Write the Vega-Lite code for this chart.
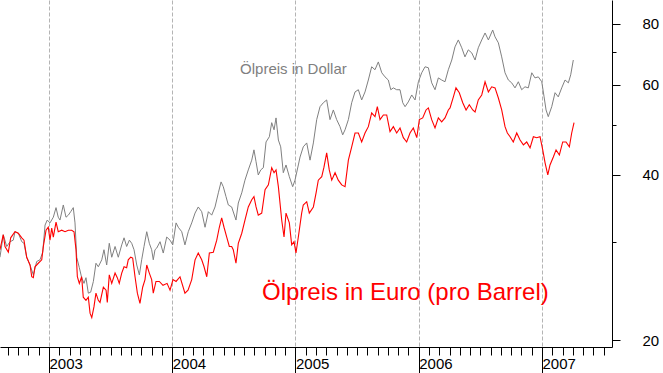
{
  "$schema": "https://vega.github.io/schema/vega-lite/v6.json",
  "width": 612,
  "height": 347,
  "autosize": {"type": "none"},
  "padding": {"left": 0, "top": 0, "right": 51, "bottom": 26},
  "background": "white",
  "config": {
    "view": {"stroke": null},
    "font": "Liberation Sans",
    "axis": {"domainColor": "#000000", "tickColor": "#000000", "labelColor": "#000000", "labelFont": "Liberation Sans", "title": null}
  },
  "datasets": {
    "usd": [
      {"t":2002.602,"p":28.1},{"t":2002.629,"p":30.9},{"t":2002.657,"p":29.4},{"t":2002.684,"p":30.0},{"t":2002.710,"p":30.2},{"t":2002.724,"p":31.3},{"t":2002.751,"p":31.1},{"t":2002.779,"p":30.0},{"t":2002.797,"p":29.8},{"t":2002.819,"p":28.1},{"t":2002.846,"p":27.2},{"t":2002.873,"p":26.1},{"t":2002.900,"p":27.6},{"t":2002.927,"p":27.8},{"t":2002.949,"p":28.7},{"t":2002.968,"p":32.2},{"t":2002.986,"p":32.9},{"t":2003.008,"p":32.5},{"t":2003.035,"p":33.3},{"t":2003.057,"p":34.7},{"t":2003.075,"p":33.3},{"t":2003.089,"p":32.9},{"t":2003.116,"p":35.1},{"t":2003.138,"p":33.3},{"t":2003.157,"p":33.6},{"t":2003.176,"p":34.1},{"t":2003.197,"p":34.7},{"t":2003.211,"p":32.5},{"t":2003.225,"p":28.1},{"t":2003.246,"p":26.9},{"t":2003.265,"p":25.8},{"t":2003.284,"p":25.2},{"t":2003.300,"p":25.8},{"t":2003.319,"p":24.2},{"t":2003.338,"p":24.3},{"t":2003.360,"p":25.4},{"t":2003.381,"p":27.4},{"t":2003.400,"p":27.0},{"t":2003.428,"p":27.8},{"t":2003.446,"p":29.0},{"t":2003.468,"p":27.2},{"t":2003.489,"p":29.8},{"t":2003.509,"p":28.1},{"t":2003.536,"p":29.4},{"t":2003.562,"p":28.1},{"t":2003.590,"p":29.6},{"t":2003.609,"p":30.5},{"t":2003.630,"p":29.4},{"t":2003.652,"p":30.2},{"t":2003.671,"p":29.8},{"t":2003.690,"p":29.0},{"t":2003.712,"p":27.2},{"t":2003.733,"p":26.1},{"t":2003.752,"p":27.8},{"t":2003.771,"p":29.4},{"t":2003.793,"p":31.3},{"t":2003.814,"p":29.8},{"t":2003.833,"p":29.0},{"t":2003.846,"p":27.8},{"t":2003.860,"p":29.0},{"t":2003.874,"p":29.2},{"t":2003.901,"p":30.0},{"t":2003.927,"p":28.6},{"t":2003.955,"p":30.6},{"t":2003.982,"p":30.2},{"t":2004.004,"p":29.6},{"t":2004.031,"p":32.5},{"t":2004.049,"p":31.9},{"t":2004.077,"p":31.3},{"t":2004.103,"p":29.6},{"t":2004.130,"p":31.3},{"t":2004.158,"p":32.5},{"t":2004.185,"p":33.9},{"t":2004.211,"p":34.8},{"t":2004.239,"p":34.1},{"t":2004.266,"p":31.9},{"t":2004.293,"p":34.1},{"t":2004.320,"p":33.6},{"t":2004.347,"p":34.8},{"t":2004.374,"p":37.0},{"t":2004.396,"p":38.8},{"t":2004.414,"p":38.0},{"t":2004.436,"p":36.4},{"t":2004.455,"p":35.1},{"t":2004.482,"p":34.8},{"t":2004.517,"p":32.9},{"t":2004.536,"p":35.4},{"t":2004.564,"p":37.0},{"t":2004.590,"p":39.1},{"t":2004.617,"p":40.9},{"t":2004.645,"p":42.7},{"t":2004.663,"p":44.7},{"t":2004.680,"p":42.4},{"t":2004.698,"p":40.0},{"t":2004.718,"p":40.9},{"t":2004.739,"p":41.3},{"t":2004.761,"p":46.3},{"t":2004.788,"p":47.4},{"t":2004.807,"p":50.5},{"t":2004.826,"p":48.9},{"t":2004.842,"p":51.6},{"t":2004.861,"p":46.7},{"t":2004.880,"p":45.3},{"t":2004.901,"p":40.4},{"t":2004.923,"p":41.8},{"t":2004.950,"p":39.7},{"t":2004.977,"p":38.0},{"t":2004.996,"p":39.1},{"t":2005.023,"p":41.8},{"t":2005.037,"p":43.3},{"t":2005.063,"p":45.3},{"t":2005.091,"p":46.1},{"t":2005.118,"p":42.7},{"t":2005.145,"p":46.1},{"t":2005.172,"p":51.2},{"t":2005.199,"p":54.3},{"t":2005.226,"p":55.3},{"t":2005.253,"p":56.0},{"t":2005.280,"p":51.2},{"t":2005.307,"p":53.5},{"t":2005.334,"p":51.2},{"t":2005.361,"p":49.6},{"t":2005.383,"p":47.8},{"t":2005.402,"p":48.9},{"t":2005.429,"p":51.2},{"t":2005.456,"p":55.3},{"t":2005.483,"p":58.1},{"t":2005.510,"p":58.7},{"t":2005.537,"p":56.0},{"t":2005.564,"p":58.1},{"t":2005.591,"p":61.4},{"t":2005.618,"p":65.3},{"t":2005.645,"p":64.4},{"t":2005.672,"p":66.8},{"t":2005.700,"p":63.5},{"t":2005.726,"p":62.3},{"t":2005.753,"p":61.4},{"t":2005.773,"p":58.7},{"t":2005.794,"p":59.2},{"t":2005.821,"p":58.7},{"t":2005.848,"p":58.7},{"t":2005.870,"p":55.3},{"t":2005.889,"p":54.3},{"t":2005.915,"p":55.5},{"t":2005.943,"p":57.3},{"t":2005.970,"p":56.0},{"t":2005.997,"p":60.9},{"t":2006.024,"p":63.5},{"t":2006.051,"p":65.3},{"t":2006.078,"p":65.0},{"t":2006.105,"p":60.6},{"t":2006.132,"p":58.7},{"t":2006.159,"p":62.0},{"t":2006.186,"p":61.4},{"t":2006.213,"p":60.9},{"t":2006.240,"p":64.4},{"t":2006.268,"p":67.4},{"t":2006.294,"p":71.7},{"t":2006.321,"p":74.1},{"t":2006.349,"p":71.4},{"t":2006.375,"p":68.4},{"t":2006.402,"p":70.7},{"t":2006.430,"p":69.7},{"t":2006.457,"p":67.4},{"t":2006.483,"p":71.4},{"t":2006.511,"p":74.1},{"t":2006.538,"p":76.6},{"t":2006.565,"p":74.1},{"t":2006.600,"p":77.7},{"t":2006.619,"p":75.2},{"t":2006.646,"p":73.1},{"t":2006.673,"p":68.4},{"t":2006.700,"p":63.5},{"t":2006.727,"p":61.4},{"t":2006.754,"p":60.6},{"t":2006.781,"p":59.2},{"t":2006.808,"p":60.9},{"t":2006.835,"p":58.7},{"t":2006.862,"p":59.5},{"t":2006.889,"p":59.2},{"t":2006.917,"p":63.5},{"t":2006.943,"p":62.0},{"t":2006.970,"p":62.3},{"t":2006.998,"p":60.9},{"t":2007.017,"p":56.8},{"t":2007.033,"p":53.5},{"t":2007.051,"p":51.9},{"t":2007.079,"p":54.3},{"t":2007.106,"p":57.9},{"t":2007.132,"p":56.8},{"t":2007.160,"p":59.2},{"t":2007.187,"p":61.4},{"t":2007.214,"p":60.6},{"t":2007.233,"p":62.9},{"t":2007.254,"p":67.4}
    ],
    "eur": [
      {"t":2002.602,"p":29.0},{"t":2002.629,"p":30.9},{"t":2002.643,"p":29.4},{"t":2002.670,"p":28.7},{"t":2002.689,"p":30.5},{"t":2002.724,"p":31.3},{"t":2002.751,"p":31.1},{"t":2002.779,"p":30.5},{"t":2002.797,"p":30.2},{"t":2002.819,"p":28.1},{"t":2002.846,"p":27.2},{"t":2002.860,"p":25.9},{"t":2002.873,"p":25.8},{"t":2002.886,"p":27.0},{"t":2002.913,"p":27.4},{"t":2002.941,"p":27.8},{"t":2002.954,"p":29.4},{"t":2002.976,"p":31.5},{"t":2002.994,"p":31.9},{"t":2003.008,"p":30.2},{"t":2003.022,"p":31.8},{"t":2003.035,"p":30.6},{"t":2003.057,"p":32.6},{"t":2003.075,"p":31.3},{"t":2003.103,"p":31.5},{"t":2003.130,"p":31.3},{"t":2003.157,"p":31.5},{"t":2003.184,"p":31.5},{"t":2003.203,"p":31.3},{"t":2003.219,"p":29.0},{"t":2003.230,"p":25.9},{"t":2003.246,"p":25.2},{"t":2003.265,"p":25.9},{"t":2003.278,"p":23.8},{"t":2003.300,"p":23.5},{"t":2003.319,"p":23.8},{"t":2003.333,"p":22.3},{"t":2003.347,"p":21.9},{"t":2003.365,"p":22.9},{"t":2003.381,"p":24.2},{"t":2003.400,"p":23.5},{"t":2003.414,"p":23.3},{"t":2003.441,"p":24.8},{"t":2003.463,"p":24.5},{"t":2003.473,"p":23.3},{"t":2003.489,"p":26.1},{"t":2003.509,"p":25.2},{"t":2003.536,"p":26.3},{"t":2003.554,"p":25.8},{"t":2003.570,"p":25.2},{"t":2003.590,"p":26.3},{"t":2003.609,"p":27.0},{"t":2003.630,"p":26.9},{"t":2003.643,"p":27.8},{"t":2003.663,"p":28.1},{"t":2003.679,"p":28.0},{"t":2003.698,"p":25.9},{"t":2003.717,"p":24.2},{"t":2003.738,"p":23.2},{"t":2003.760,"p":24.8},{"t":2003.779,"p":25.6},{"t":2003.793,"p":27.2},{"t":2003.814,"p":26.3},{"t":2003.833,"p":25.6},{"t":2003.846,"p":24.2},{"t":2003.868,"p":25.4},{"t":2003.895,"p":25.4},{"t":2003.925,"p":25.0},{"t":2003.958,"p":25.2},{"t":2003.982,"p":24.5},{"t":2004.006,"p":25.6},{"t":2004.031,"p":25.4},{"t":2004.063,"p":25.9},{"t":2004.103,"p":24.2},{"t":2004.128,"p":24.5},{"t":2004.158,"p":25.6},{"t":2004.185,"p":27.8},{"t":2004.211,"p":28.6},{"t":2004.239,"p":27.8},{"t":2004.258,"p":27.0},{"t":2004.280,"p":25.9},{"t":2004.301,"p":28.6},{"t":2004.333,"p":28.7},{"t":2004.361,"p":30.2},{"t":2004.382,"p":31.9},{"t":2004.401,"p":33.2},{"t":2004.420,"p":31.9},{"t":2004.442,"p":30.6},{"t":2004.463,"p":29.4},{"t":2004.482,"p":29.4},{"t":2004.495,"p":29.0},{"t":2004.517,"p":27.4},{"t":2004.536,"p":29.8},{"t":2004.564,"p":31.1},{"t":2004.590,"p":32.9},{"t":2004.617,"p":34.8},{"t":2004.645,"p":35.9},{"t":2004.663,"p":36.4},{"t":2004.680,"p":34.8},{"t":2004.698,"p":33.6},{"t":2004.726,"p":33.9},{"t":2004.753,"p":37.5},{"t":2004.780,"p":38.3},{"t":2004.807,"p":41.3},{"t":2004.826,"p":40.4},{"t":2004.842,"p":40.9},{"t":2004.861,"p":38.0},{"t":2004.888,"p":32.9},{"t":2004.907,"p":30.6},{"t":2004.923,"p":33.9},{"t":2004.950,"p":32.5},{"t":2004.969,"p":29.6},{"t":2004.988,"p":30.0},{"t":2005.004,"p":28.6},{"t":2005.023,"p":30.6},{"t":2005.050,"p":33.9},{"t":2005.063,"p":35.1},{"t":2005.091,"p":35.6},{"t":2005.112,"p":33.9},{"t":2005.145,"p":34.8},{"t":2005.167,"p":37.0},{"t":2005.185,"p":39.1},{"t":2005.213,"p":39.7},{"t":2005.231,"p":41.4},{"t":2005.253,"p":44.1},{"t":2005.274,"p":40.9},{"t":2005.294,"p":39.1},{"t":2005.321,"p":40.4},{"t":2005.347,"p":39.1},{"t":2005.375,"p":38.3},{"t":2005.402,"p":38.0},{"t":2005.429,"p":42.7},{"t":2005.456,"p":45.3},{"t":2005.483,"p":48.2},{"t":2005.510,"p":48.2},{"t":2005.537,"p":46.3},{"t":2005.564,"p":48.2},{"t":2005.591,"p":49.6},{"t":2005.618,"p":52.8},{"t":2005.645,"p":51.9},{"t":2005.664,"p":54.3},{"t":2005.686,"p":51.2},{"t":2005.713,"p":52.3},{"t":2005.740,"p":52.3},{"t":2005.767,"p":48.5},{"t":2005.794,"p":49.6},{"t":2005.821,"p":48.2},{"t":2005.848,"p":49.3},{"t":2005.875,"p":47.2},{"t":2005.902,"p":46.3},{"t":2005.929,"p":48.2},{"t":2005.956,"p":49.3},{"t":2005.984,"p":47.2},{"t":2006.005,"p":51.2},{"t":2006.032,"p":51.6},{"t":2006.059,"p":53.5},{"t":2006.078,"p":54.0},{"t":2006.105,"p":51.2},{"t":2006.132,"p":49.3},{"t":2006.159,"p":51.6},{"t":2006.186,"p":50.7},{"t":2006.213,"p":51.6},{"t":2006.240,"p":53.5},{"t":2006.254,"p":54.0},{"t":2006.281,"p":56.8},{"t":2006.302,"p":59.2},{"t":2006.329,"p":57.9},{"t":2006.357,"p":55.3},{"t":2006.384,"p":53.5},{"t":2006.410,"p":54.8},{"t":2006.438,"p":53.5},{"t":2006.457,"p":53.0},{"t":2006.483,"p":56.0},{"t":2006.511,"p":57.3},{"t":2006.538,"p":60.9},{"t":2006.565,"p":58.1},{"t":2006.592,"p":59.5},{"t":2006.619,"p":59.2},{"t":2006.646,"p":56.5},{"t":2006.673,"p":53.5},{"t":2006.700,"p":49.6},{"t":2006.719,"p":48.2},{"t":2006.741,"p":47.4},{"t":2006.767,"p":46.3},{"t":2006.795,"p":48.2},{"t":2006.822,"p":46.7},{"t":2006.849,"p":45.7},{"t":2006.876,"p":46.3},{"t":2006.903,"p":45.1},{"t":2006.930,"p":47.4},{"t":2006.957,"p":47.2},{"t":2006.984,"p":47.4},{"t":2007.006,"p":44.7},{"t":2007.025,"p":42.2},{"t":2007.047,"p":40.0},{"t":2007.065,"p":41.8},{"t":2007.092,"p":43.3},{"t":2007.114,"p":44.7},{"t":2007.141,"p":43.7},{"t":2007.168,"p":46.3},{"t":2007.195,"p":46.3},{"t":2007.222,"p":45.3},{"t":2007.241,"p":48.2},{"t":2007.260,"p":50.5}
    ],
    "labels": [
      {"t":2004.550,"p":63.2,"text":"Ölpreis in Dollar","series":"usd"},
      {"t":2004.728,"p":23.5,"text":"Ölpreis in Euro (pro Barrel)","series":"eur"}
    ]
  },
  "encoding": {
    "y": {"field": "p", "type": "quantitative",
          "scale": {"type": "pow", "exponent": -0.128, "domain": [19.45, 89.8], "nice": false, "zero": false},
          "axis": {"orient": "right", "values": [20,30,40,50,60,70,80], "grid": false, "title": null,
                   "labelExpr": "datum.value % 20 === 0 ? datum.label : ''",
                   "tickSize": {"condition": {"test": "datum.value % 20 === 0", "value": 8}, "value": 4},
                   "labelPadding": 22, "labelFontSize": 15, "labelBaseline": "middle"}}
  },
  "layer": [
    {
      "data": {"name": "usd"},
      "mark": {"type": "line", "color": "#808080", "strokeWidth": 1, "clip": true},
      "encoding": {
        "x": {"field": "t", "type": "quantitative",
              "scale": {"domain": [2002.6024, 2007.568], "nice": false, "zero": false},
              "axis": {"orient": "bottom", "values": [2002.6667,2002.75,2002.8333,2002.9167,2003,2003.0833,2003.1667,2003.25,2003.3333,2003.4167,2003.5,2003.5833,2003.6667,2003.75,2003.8333,2003.9167,2004,2004.0833,2004.1667,2004.25,2004.3333,2004.4167,2004.5,2004.5833,2004.6667,2004.75,2004.8333,2004.9167,2005,2005.0833,2005.1667,2005.25,2005.3333,2005.4167,2005.5,2005.5833,2005.6667,2005.75,2005.8333,2005.9167,2006,2006.0833,2006.1667,2006.25,2006.3333,2006.4167,2006.5,2006.5833,2006.6667,2006.75,2006.8333,2006.9167,2007,2007.0833,2007.1667,2007.25,2007.3333,2007.4167,2007.5],
                       "labels": false, "tickSize": 8, "grid": false, "domain": true, "title": null}}
      }
    },
    {
      "data": {"name": "eur"},
      "mark": {"type": "line", "color": "#ff0000", "strokeWidth": 1.1, "clip": true},
      "encoding": {
        "x": {"field": "t", "type": "quantitative",
              "axis": {"orient": "bottom", "values": [2003,2004,2005,2006,2007], "format": "d",
                       "tickSize": 26, "labelAlign": "left", "labelBaseline": "top", "labelDx": 2, "labelPadding": -17,
                       "labelFontSize": 15, "labelFlush": false, "labelOverlap": false,
                       "grid": true, "gridDash": [4, 2], "gridColor": "#b4b4b4", "gridWidth": 1,
                       "domain": false, "title": null}}
      }
    },
    {
      "data": {"name": "labels"},
      "transform": [{"filter": "datum.series === 'usd'"}],
      "mark": {"type": "text", "align": "left", "baseline": "alphabetic", "fontSize": 15, "color": "#808080", "font": "Liberation Sans"},
      "encoding": {
        "x": {"field": "t", "type": "quantitative", "axis": null},
        "text": {"field": "text"}
      }
    },
    {
      "data": {"name": "labels"},
      "transform": [{"filter": "datum.series === 'eur'"}],
      "mark": {"type": "text", "align": "left", "baseline": "alphabetic", "fontSize": 24, "color": "#ff0000", "font": "Liberation Sans"},
      "encoding": {
        "x": {"field": "t", "type": "quantitative", "axis": null},
        "text": {"field": "text"}
      }
    }
  ],
  "resolve": {"axis": {"x": "independent"}}
}
